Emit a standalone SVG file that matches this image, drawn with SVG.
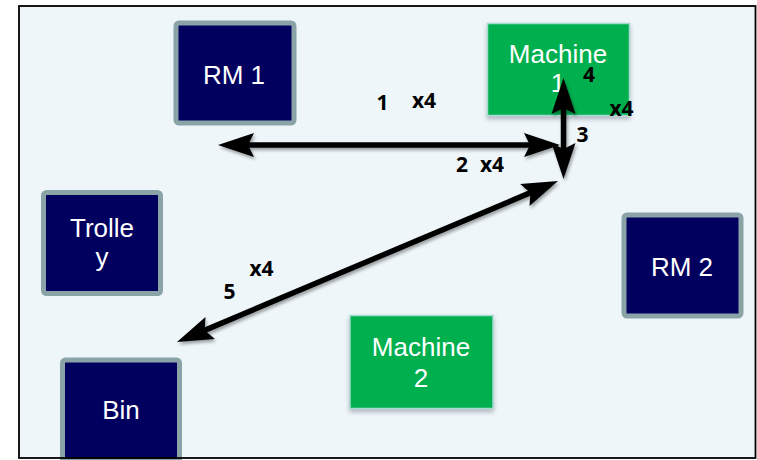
<svg xmlns="http://www.w3.org/2000/svg" width="757" height="460" viewBox="0 0 757 460">
  <style>
    .dark rect { fill: #02005F; stroke: #8AA3A7; stroke-width: 5; }
    .green rect { fill: #00B050; stroke: #A6D9D0; stroke-width: 1.5; filter: url(#boxShadow); }
    .ntext { font-family: "Liberation Sans", Arial, sans-serif; font-size: 26px; fill: #FFFFFF; text-anchor: middle; }
    .conn { fill: none; stroke: #000000; stroke-width: 5.5; marker-start: url(#head); marker-end: url(#head); }
    .lbl { font-family: "Open Sans", "Liberation Sans", sans-serif; font-weight: bold; font-size: 21px; fill: #000000; text-anchor: middle; }
  </style>
  <defs>
    <marker id="head" markerUnits="userSpaceOnUse" markerWidth="40" markerHeight="30" refX="26" refY="0" viewBox="0 -15 40 30" orient="auto-start-reverse" overflow="visible">
      <path d="M 36 0 L 0 -12 L 6 0 L 0 12 Z" fill="#000000"/>
    </marker>
    <filter id="lineShadow" x="-10%" y="-10%" width="120%" height="120%">
      <feDropShadow dx="1.5" dy="2.5" stdDeviation="1.5" flood-color="#000000" flood-opacity="0.35"/>
    </filter>
    <filter id="boxShadow" x="-10%" y="-10%" width="120%" height="125%">
      <feDropShadow dx="0" dy="3" stdDeviation="2" flood-color="#556" flood-opacity="0.4"/>
    </filter>
  </defs>

  <rect x="0" y="0" width="757" height="460" fill="#FFFFFF"/>
  <rect x="19" y="6" width="736.5" height="452" fill="#EEF6F9"/>

  <g id="rm1" class="dark">
    <rect x="176" y="23" width="118" height="100" rx="3"/>
    <text class="ntext" x="234" y="84">RM 1</text>
  </g>
  <g id="machine1" class="green">
    <rect x="487.5" y="23.5" width="142" height="92"/>
    <text class="ntext" x="558" y="63">Machine</text>
    <text class="ntext" x="558" y="92">1</text>
  </g>
  <g id="trolley" class="dark">
    <rect x="43.5" y="192.5" width="117" height="101" rx="3"/>
    <text class="ntext" x="102" y="237">Trolle</text>
    <text class="ntext" x="102" y="266">y</text>
  </g>
  <g id="rm2" class="dark">
    <rect x="624" y="215" width="117" height="101" rx="3"/>
    <text class="ntext" x="682" y="276">RM 2</text>
  </g>
  <g id="machine2" class="green">
    <rect x="350" y="315.5" width="143" height="93"/>
    <text class="ntext" x="421" y="356">Machine</text>
    <text class="ntext" x="421" y="387">2</text>
  </g>
  <g id="bin" class="dark">
    <rect x="62.5" y="360" width="117" height="101" rx="3"/>
    <text class="ntext" x="121" y="419">Bin</text>
  </g>

  <g id="connectors" filter="url(#lineShadow)">
    <path class="conn" d="M 228 145 L 550 145"/>
    <path class="conn" d="M 563.5 88 L 563.5 169"/>
    <path class="conn" d="M 186.2 338.1 L 548.8 184.9"/>
  </g>

  <g id="edge-labels">
    <text class="lbl" x="382.5" y="110">1</text>
    <text class="lbl" x="424" y="108">x4</text>
    <text class="lbl" x="462" y="172">2</text>
    <text class="lbl" x="492" y="172">x4</text>
    <text class="lbl" x="589" y="82">4</text>
    <text class="lbl" x="621.5" y="116">x4</text>
    <text class="lbl" x="582.5" y="142">3</text>
    <text class="lbl" x="229.5" y="299">5</text>
    <text class="lbl" x="261.5" y="276">x4</text>
  </g>

  <rect x="19" y="6" width="736.5" height="452" fill="none" stroke="#000000" stroke-width="1.8"/>
</svg>
